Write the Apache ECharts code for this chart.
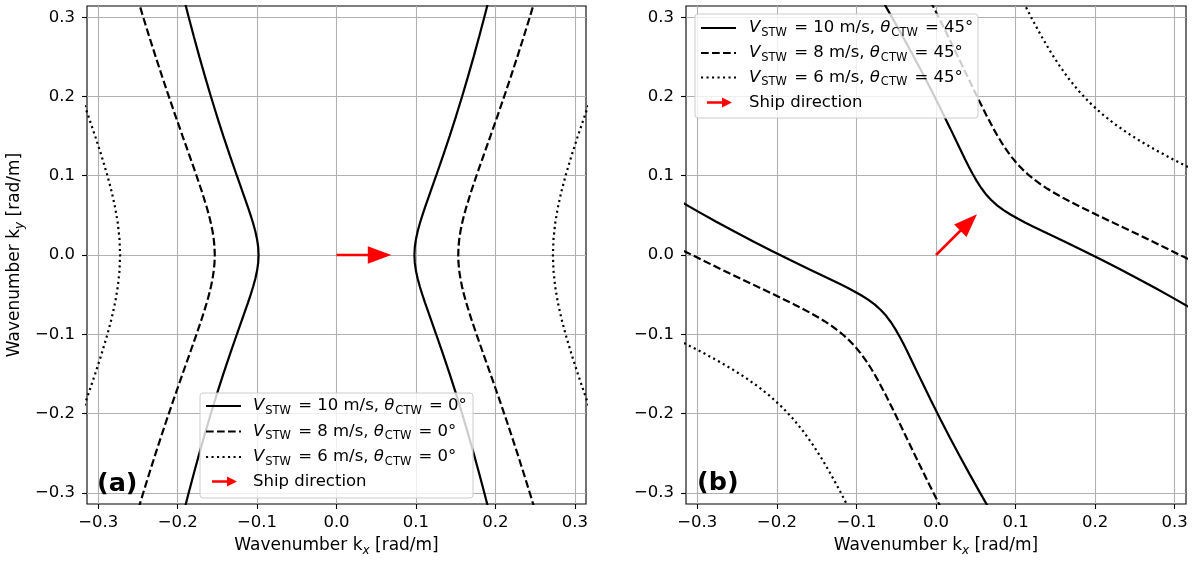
<!DOCTYPE html>
<html>
<head>
<meta charset="utf-8">
<script src="https://cdn.jsdelivr.net/npm/echarts@6/dist/echarts.min.js"></script>
<style>html,body{margin:0;padding:0;background:#fff}#c{width:1195px;height:562px}</style>
</head>
<body>
<div id="c"></div>
<script>
// ---------- data ----------
const tickValues = [-0.3, -0.2, -0.1, 0, 0.1, 0.2, 0.3];
const axisMin = -0.31416, axisMax = 0.31416;

// Panel (a): theta = 0 deg, ky samples and kx of right / left branches
const kyA = [-0.32,-0.3,-0.275,-0.25,-0.225,-0.2,-0.175,-0.15,-0.125,-0.1,-0.08,-0.06,-0.05,-0.04,-0.03,-0.02,-0.01,0,0.01,0.02,0.03,0.04,0.05,0.06,0.08,0.1,0.125,0.15,0.175,0.2,0.225,0.25,0.275,0.3,0.32];
const kxA10R = [0.19124,0.18610,0.17949,0.17264,0.16554,0.15816,0.15047,0.14246,0.13411,0.12545,0.11840,0.11142,0.10809,0.10498,0.10224,0.10004,0.09860,0.09810,0.09860,0.10004,0.10224,0.10498,0.10809,0.11142,0.11840,0.12545,0.13411,0.14246,0.15047,0.15816,0.16554,0.17264,0.17949,0.18610,0.19124];
const kxA10L = [-0.19124,-0.18610,-0.17949,-0.17264,-0.16554,-0.15816,-0.15047,-0.14246,-0.13411,-0.12545,-0.11840,-0.11142,-0.10809,-0.10498,-0.10224,-0.10004,-0.09860,-0.09810,-0.09860,-0.10004,-0.10224,-0.10498,-0.10809,-0.11142,-0.11840,-0.12545,-0.13411,-0.14246,-0.15047,-0.15816,-0.16554,-0.17264,-0.17949,-0.18610,-0.19124];
const kxA8R = [0.24937,0.24333,0.23560,0.22766,0.21950,0.21114,0.20256,0.19382,0.18499,0.17624,0.16950,0.16330,0.16054,0.15811,0.15609,0.15456,0.15361,0.15328,0.15361,0.15456,0.15609,0.15811,0.16054,0.16330,0.16950,0.17624,0.18499,0.19382,0.20256,0.21114,0.21950,0.22766,0.23560,0.24333,0.24937];
const kxA8L = [-0.24937,-0.24333,-0.23560,-0.22766,-0.21950,-0.21114,-0.20256,-0.19382,-0.18499,-0.17624,-0.16950,-0.16330,-0.16054,-0.15811,-0.15609,-0.15456,-0.15361,-0.15328,-0.15361,-0.15456,-0.15609,-0.15811,-0.16054,-0.16330,-0.16950,-0.17624,-0.18499,-0.19382,-0.20256,-0.21114,-0.21950,-0.22766,-0.23560,-0.24333,-0.24937];
const kyA6 = [-0.19,-0.18,-0.175,-0.15,-0.125,-0.1,-0.08,-0.06,-0.04,-0.02,0,0.02,0.04,0.06,0.08,0.1,0.125,0.15,0.175,0.18,0.19];
const kxA6R = [0.31755,0.31408,0.31235,0.30389,0.29583,0.28842,0.28317,0.27874,0.27536,0.27323,0.27250,0.27323,0.27536,0.27874,0.28317,0.28842,0.29583,0.30389,0.31235,0.31408,0.31755];
const kxA6L = [-0.31755,-0.31408,-0.31235,-0.30389,-0.29583,-0.28842,-0.28317,-0.27874,-0.27536,-0.27323,-0.27250,-0.27323,-0.27536,-0.27874,-0.28317,-0.28842,-0.29583,-0.30389,-0.31235,-0.31408,-0.31755];

// Panel (b): theta = 45 deg, upper-right and lower-left branches
const kxB10U = [0.36150,0.34373,0.32137,0.29885,0.27615,0.25326,0.23014,0.20680,0.18322,0.15942,0.14029,0.12121,0.11179,0.10252,0.09351,0.08488,0.07679,0.06937,0.06265,0.05660,0.05108,0.04595,0.04108,0.03636,0.02715,0.01800,0.00644,-0.00533,-0.01735,-0.02959,-0.04204,-0.05470,-0.06754,-0.08054,-0.09105];
const kyB10U = [-0.09105,-0.08054,-0.06754,-0.05470,-0.04204,-0.02959,-0.01735,-0.00533,0.00644,0.01800,0.02715,0.03636,0.04108,0.04595,0.05108,0.05660,0.06265,0.06937,0.07679,0.08488,0.09351,0.10252,0.11179,0.12121,0.14029,0.15942,0.18322,0.20680,0.23014,0.25326,0.27615,0.29885,0.32137,0.34373,0.36150];
const kxB10D = [-0.36150,-0.34373,-0.32137,-0.29885,-0.27615,-0.25326,-0.23014,-0.20680,-0.18322,-0.15942,-0.14029,-0.12121,-0.11179,-0.10252,-0.09351,-0.08488,-0.07679,-0.06937,-0.06265,-0.05660,-0.05108,-0.04595,-0.04108,-0.03636,-0.02715,-0.01800,-0.00644,0.00533,0.01735,0.02959,0.04204,0.05470,0.06754,0.08054,0.09105];
const kyB10D = [0.09105,0.08054,0.06754,0.05470,0.04204,0.02959,0.01735,0.00533,-0.00644,-0.01800,-0.02715,-0.03636,-0.04108,-0.04595,-0.05108,-0.05660,-0.06265,-0.06937,-0.07679,-0.08488,-0.09351,-0.10252,-0.11179,-0.12121,-0.14029,-0.15942,-0.18322,-0.20680,-0.23014,-0.25326,-0.27615,-0.29885,-0.32137,-0.34373,-0.36150];
const kxB8U = [0.40261,0.38420,0.36105,0.33776,0.31431,0.29072,0.26698,0.24312,0.21920,0.19533,0.17642,0.15790,0.14887,0.14009,0.13159,0.12343,0.11569,0.10839,0.10155,0.09515,0.08916,0.08352,0.07816,0.07304,0.06329,0.05391,0.04242,0.03099,0.01949,0.00788,-0.00389,-0.01580,-0.02786,-0.04007,-0.04994];
const kyB8U = [-0.04994,-0.04007,-0.02786,-0.01580,-0.00389,0.00788,0.01949,0.03099,0.04242,0.05391,0.06329,0.07304,0.07816,0.08352,0.08916,0.09515,0.10155,0.10839,0.11569,0.12343,0.13159,0.14009,0.14887,0.15790,0.17642,0.19533,0.21920,0.24312,0.26698,0.29072,0.31431,0.33776,0.36105,0.38420,0.40261];
const kxB8D = [-0.40261,-0.38420,-0.36105,-0.33776,-0.31431,-0.29072,-0.26698,-0.24312,-0.21920,-0.19533,-0.17642,-0.15790,-0.14887,-0.14009,-0.13159,-0.12343,-0.11569,-0.10839,-0.10155,-0.09515,-0.08916,-0.08352,-0.07816,-0.07304,-0.06329,-0.05391,-0.04242,-0.03099,-0.01949,-0.00788,0.00389,0.01580,0.02786,0.04007,0.04994];
const kyB8D = [0.04994,0.04007,0.02786,0.01580,0.00389,-0.00788,-0.01949,-0.03099,-0.04242,-0.05391,-0.06329,-0.07304,-0.07816,-0.08352,-0.08916,-0.09515,-0.10155,-0.10839,-0.11569,-0.12343,-0.13159,-0.14009,-0.14887,-0.15790,-0.17642,-0.19533,-0.21920,-0.24312,-0.26698,-0.29072,-0.31431,-0.33776,-0.36105,-0.38420,-0.40261];
const kxB6U = [0.41627,0.39235,0.36844,0.34461,0.32095,0.29757,0.27466,0.25680,0.23953,0.22300,0.20735,0.19269,0.17906,0.16643,0.15467,0.14366,0.13323,0.12080,0.10882,0.09712,0.08560,0.07415,0.06271];
const kyB6U = [0.06271,0.07415,0.08560,0.09712,0.10882,0.12080,0.13323,0.14366,0.15467,0.16643,0.17906,0.19269,0.20735,0.22300,0.23953,0.25680,0.27466,0.29757,0.32095,0.34461,0.36844,0.39235,0.41627];
const kxB6D = [-0.41627,-0.39235,-0.36844,-0.34461,-0.32095,-0.29757,-0.27466,-0.25680,-0.23953,-0.22300,-0.20735,-0.19269,-0.17906,-0.16643,-0.15467,-0.14366,-0.13323,-0.12080,-0.10882,-0.09712,-0.08560,-0.07415,-0.06271];
const kyB6D = [-0.06271,-0.07415,-0.08560,-0.09712,-0.10882,-0.12080,-0.13323,-0.14366,-0.15467,-0.16643,-0.17906,-0.19269,-0.20735,-0.22300,-0.23953,-0.25680,-0.27466,-0.29757,-0.32095,-0.34461,-0.36844,-0.39235,-0.41627];

// Ship direction arrows [x0, y0, x1, y1]
const arrowA = [[0, 0, 0.069, 0]];
const arrowB = [[0, 0, 0.0515, 0.0515]];

const legendSpeeds = ['10 m/s', '8 m/s', '6 m/s'];
const thetaA = '0°', thetaB = '45°';
// ------------------------------------------------

const FONT = 'DejaVu Sans';
const FS = 16.5, SUB = 11.5;
const zip = (xs, ys) => xs.map((x, i) => [x, ys[i]]);
const DASH = [7.7, 3.3], DOT = [2.1, 3.4];
const LW = 2.2;

function fmt(v) {
  const s = Math.abs(v).toFixed(1);
  return v < -1e-9 ? '\u2212' + s : s;
}

function mkAxis(grid, isX, nameRich) {
  const ax = {
    type: 'value', gridIndex: grid, min: axisMin, max: axisMax,
    axisLine: { show: false, onZero: false },
    axisTick: { show: true, inside: false, length: 5, customValues: tickValues, lineStyle: { color: '#000', width: 1.1 } },
    axisLabel: { customValues: tickValues, formatter: fmt, color: '#000', fontFamily: FONT, fontSize: FS, margin: isX ? 10 : 12 },
    splitLine: { show: true, lineStyle: { color: '#b0b0b0', width: 1.1 } }
  };
  if (nameRich) {
    ax.name = nameRich;
    ax.nameLocation = 'middle';
    ax.nameGap = isX ? 31 : 61;
    ax.nameTextStyle = {
      rich: {
        n: { fontFamily: FONT, fontSize: 17, color: '#000', lineHeight: 22, verticalAlign: 'middle' },
        s: { fontFamily: FONT, fontSize: 12, fontStyle: 'italic', color: '#000', lineHeight: 14, verticalAlign: 'bottom' }
      }
    };
  }
  return ax;
}

function lineSeries(xi, yi, data, type) {
  return {
    type: 'line', xAxisIndex: xi, yAxisIndex: yi, data: data, symbol: 'none', showSymbol: false,
    clip: true, smooth: false, z: 3,
    lineStyle: { color: '#000', width: LW, type: type, cap: 'butt' }
  };
}

function arrowRender(params, api) {
  const s = api.coord([api.value(0), api.value(1)]);
  const e = api.coord([api.value(2), api.value(3)]);
  const dx = e[0] - s[0], dy = e[1] - s[1];
  const L = Math.hypot(dx, dy);
  const ux = dx / L, uy = dy / L, px = -uy, py = ux;
  const hl = 23.5, hw = 8.8, sw = 1.3;
  const bx = e[0] - ux * hl, by = e[1] - uy * hl;
  return {
    type: 'polygon',
    shape: { points: [
      [s[0] + px * sw, s[1] + py * sw], [bx + px * sw, by + py * sw], [bx + px * hw, by + py * hw],
      [e[0], e[1]], [bx - px * hw, by - py * hw], [bx - px * sw, by - py * sw], [s[0] - px * sw, s[1] - py * sw]
    ] },
    style: { fill: '#ff0000' }
  };
}

const legendRich = {
  n: { fontFamily: FONT, fontSize: FS, fill: '#000', lineHeight: 22, verticalAlign: 'middle' },
  i: { fontFamily: FONT, fontSize: FS, fontStyle: 'italic', fill: '#000', lineHeight: 22, verticalAlign: 'middle' },
  s: { fontFamily: FONT, fontSize: SUB, fill: '#000', lineHeight: 13, verticalAlign: 'bottom', padding: [0, 2, 0, 1] }
};

function legendGraphics(box, lx1, lx2, tx, rows, theta) {
  const g = [];
  g.push({ type: 'rect', z: 100, shape: { x: box[0], y: box[1], width: box[2], height: box[3], r: 3 },
    style: { fill: 'rgba(255,255,255,0.8)', stroke: '#cccccc', lineWidth: 1 } });
  const dashes = [null, DASH, DOT];
  for (let k = 0; k < 3; k++) {
    g.push({ type: 'line', z: 101, shape: { x1: lx1, y1: rows[k], x2: lx2, y2: rows[k] },
      style: { stroke: '#000', lineWidth: LW, lineDash: dashes[k], lineCap: 'butt' } });
    g.push({ type: 'text', z: 101, x: tx, y: rows[k], style: {
      text: '{i|V}{s|STW}{n| = ' + legendSpeeds[k] + ', }{i|θ}{s|CTW}{n| = ' + theta + '}',
      rich: legendRich, verticalAlign: 'middle', textVerticalAlign: 'middle' } });
  }
  const ay = rows[3], a1 = lx1 + 6, a2 = lx2 - 4;
  g.push({ type: 'polygon', z: 101, shape: { points: [
    [a1, ay - 1.3], [a2 - 10, ay - 1.3], [a2 - 10, ay - 5], [a2, ay], [a2 - 10, ay + 5], [a2 - 10, ay + 1.3], [a1, ay + 1.3]
  ] }, style: { fill: '#ff0000' } });
  g.push({ type: 'text', z: 101, x: tx, y: ay, style: { text: 'Ship direction', fontFamily: FONT, fontSize: FS,
    fill: '#000', verticalAlign: 'middle', textVerticalAlign: 'middle' } });
  return g;
}

const chart = echarts.init(document.getElementById('c'), null, { renderer: 'canvas' });
const option = {
  animation: false,
  backgroundColor: '#fff',
  grid: [
    { left: 87, top: 6, width: 499, height: 500, show: true, borderColor: '#000', borderWidth: 1.1, backgroundColor: 'transparent' },
    { left: 686, top: 6, width: 500, height: 500, show: true, borderColor: '#000', borderWidth: 1.1, backgroundColor: 'transparent' }
  ],
  xAxis: [
    mkAxis(0, true, '{n|Wavenumber k}{s|x}{n| [rad/m]}'),
    mkAxis(1, true, '{n|Wavenumber k}{s|x}{n| [rad/m]}')
  ],
  yAxis: [
    mkAxis(0, false, '{n|Wavenumber k}{s|y}{n| [rad/m]}'),
    mkAxis(1, false, null)
  ],
  series: [
    lineSeries(0, 0, zip(kxA10R, kyA), 'solid'),
    lineSeries(0, 0, zip(kxA10L, kyA), 'solid'),
    lineSeries(0, 0, zip(kxA8R, kyA), DASH),
    lineSeries(0, 0, zip(kxA8L, kyA), DASH),
    lineSeries(0, 0, zip(kxA6R, kyA6), DOT),
    lineSeries(0, 0, zip(kxA6L, kyA6), DOT),
    lineSeries(1, 1, zip(kxB10U, kyB10U), 'solid'),
    lineSeries(1, 1, zip(kxB10D, kyB10D), 'solid'),
    lineSeries(1, 1, zip(kxB8U, kyB8U), DASH),
    lineSeries(1, 1, zip(kxB8D, kyB8D), DASH),
    lineSeries(1, 1, zip(kxB6U, kyB6U), DOT),
    lineSeries(1, 1, zip(kxB6D, kyB6D), DOT),
    { type: 'custom', xAxisIndex: 0, yAxisIndex: 0, data: arrowA, renderItem: arrowRender, z: 5,
      encode: { x: [0, 2], y: [1, 3] } },
    { type: 'custom', xAxisIndex: 1, yAxisIndex: 1, data: arrowB, renderItem: arrowRender, z: 5,
      encode: { x: [0, 2], y: [1, 3] } }
  ],
  graphic: [].concat(
    legendGraphics([200, 393, 273, 105], 206, 241, 253, [406, 431.5, 457, 481.5], thetaA),
    legendGraphics([695, 14, 283, 104], 701, 736, 749, [28, 53, 77.5, 102.5], thetaB),
    [
      { type: 'text', z: 102, x: 97, y: 484, style: { text: '(a)', fontFamily: FONT, fontSize: 25.5, fontWeight: 'bold', fill: '#000', verticalAlign: 'middle', textVerticalAlign: 'middle' } },
      { type: 'text', z: 102, x: 697, y: 483, style: { text: '(b)', fontFamily: FONT, fontSize: 25.5, fontWeight: 'bold', fill: '#000', verticalAlign: 'middle', textVerticalAlign: 'middle' } }
    ]
  )
};
chart.setOption(option);
</script>
</body>
</html>
